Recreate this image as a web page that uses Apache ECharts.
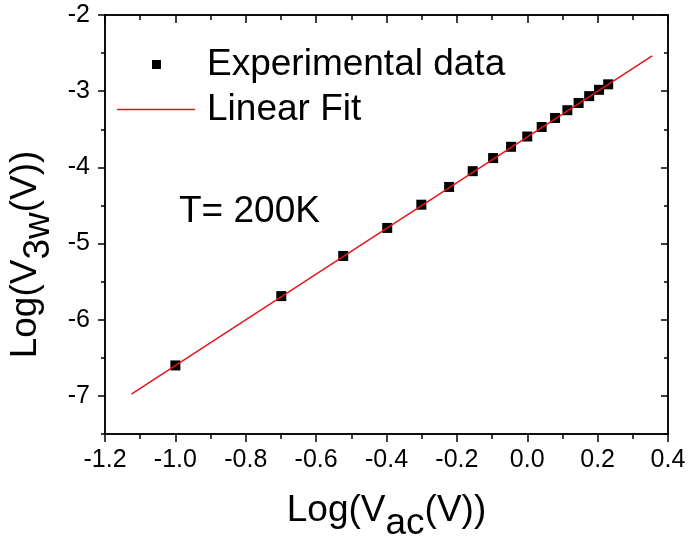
<!DOCTYPE html>
<html><head><meta charset="utf-8">
<script src="https://cdn.jsdelivr.net/npm/echarts@6/dist/echarts.min.js"></script>
<style>html,body{margin:0;padding:0;background:#fff}#c{width:689px;height:543px}</style>
</head><body><div id="c"></div>
<script>
// Data
const logVac = [-1.0, -0.699, -0.523, -0.398, -0.301, -0.222, -0.155, -0.097, -0.046, 0.0, 0.041, 0.079, 0.114, 0.146, 0.176, 0.204, 0.230];
const logV3w = [-6.60, -5.69, -5.163, -4.795, -4.49, -4.257, -4.05, -3.878, -3.73, -3.595, -3.47, -3.352, -3.25, -3.155, -3.065, -2.982, -2.91];
const fitX = [-1.125, 0.355];
const fitY = [-6.975, -2.535];
const xMajorTicks = [-1.2, -1.0, -0.8, -0.6, -0.4, -0.2, 0.0, 0.2, 0.4];
const xMinorTicks = [-1.1, -0.9, -0.7, -0.5, -0.3, -0.1, 0.1, 0.3];
const yMajorTicks = [-7, -6, -5, -4, -3, -2];
const yMinorTicks = [-7.5, -6.5, -5.5, -4.5, -3.5, -2.5];

const FONT = 'Liberation Sans, Arial, sans-serif';
const lineStyle = {color: '#000', width: 1.5};
const nameRich = {
  m: {fontSize: 37, color: '#000', fontFamily: FONT, verticalAlign: 'top', padding: [0, 0, 13, 0]},
  s: {fontSize: 37, color: '#000', fontFamily: FONT, verticalAlign: 'top', padding: [13, 0, 0, 0]}
};

function xAxisDef(pos, ticks, len, inside, labels, extra) {
  return Object.assign({
    type: 'value', position: pos, min: -1.2, max: 0.4,
    axisLine: {show: true, onZero: false, lineStyle: lineStyle},
    axisTick: {show: true, customValues: ticks, length: len, inside: inside, lineStyle: lineStyle},
    axisLabel: labels ? {show: true, customValues: ticks, margin: 14, fontSize: 25, color: '#000', fontFamily: FONT,
      formatter: v => (Math.abs(v) < 1e-9 ? 0 : v).toFixed(1)} : {show: false},
    splitLine: {show: false}
  }, extra || {});
}
function yAxisDef(pos, ticks, len, inside, labels, extra) {
  return Object.assign({
    type: 'value', position: pos, min: -7.5, max: -2,
    axisLine: {show: true, onZero: false, lineStyle: lineStyle},
    axisTick: {show: true, customValues: ticks, length: len, inside: inside, lineStyle: lineStyle},
    axisLabel: labels ? {show: true, customValues: ticks, margin: 15, fontSize: 25, color: '#000', fontFamily: FONT,
      formatter: v => String(Math.round(v))} : {show: false},
    splitLine: {show: false}
  }, extra || {});
}

const chart = echarts.init(document.getElementById('c'), null, {renderer: 'canvas'});
chart.setOption({
  animation: false,
  backgroundColor: '#fff',
  grid: {left: 105, right: 21, top: 15, bottom: 109, containLabel: false, outerBoundsMode: 'none'},
  title: {text: 'T= 200K', left: 179, top: 193, padding: 0,
    textStyle: {fontSize: 37, fontWeight: 'normal', color: '#000', fontFamily: FONT}},
  legend: [
    {orient: 'vertical', left: 152, top: 46, padding: 0, itemWidth: 9, itemHeight: 9,
      textStyle: {fontSize: 37, color: '#000', fontFamily: FONT, padding: [0, 0, 0, 41]},
      data: [{name: 'Experimental data', icon: 'rect'}]},
    {orient: 'vertical', left: 117, top: 91, padding: 0, itemWidth: 78, itemHeight: 1.5,
      textStyle: {fontSize: 37, color: '#000', fontFamily: FONT, padding: [0, 0, 0, 7]},
      data: [{name: 'Linear Fit', icon: 'path://M0,0H78V1.5H0Z'}]}
  ],
  xAxis: [
    xAxisDef('bottom', xMajorTicks, 8, false, true, {
      name: '{m|Log(V}{s|ac}{m|(V))}', nameLocation: 'middle', nameGap: 58,
      nameTextStyle: {fontSize: 37, color: '#000', fontFamily: FONT, rich: nameRich}
    }),
    xAxisDef('bottom', xMinorTicks, 5, false, false),
    xAxisDef('top', xMajorTicks, 8, true, false),
    xAxisDef('top', xMinorTicks, 5, true, false)
  ],
  yAxis: [
    yAxisDef('left', yMajorTicks, 7, false, true, {
      name: '{m|Log(V}{s|3w}{m|(V))}', nameLocation: 'middle', nameGap: 46,
      nameTextStyle: {fontSize: 37, color: '#000', fontFamily: FONT, rich: nameRich, padding: [0, 60, 0, 0]}
    }),
    yAxisDef('left', yMinorTicks, 4, false, false),
    yAxisDef('right', yMajorTicks, 7, true, false),
    yAxisDef('right', yMinorTicks, 4, true, false)
  ],
  series: [
    {
      name: 'Linear Fit', type: 'line', xAxisIndex: 0, yAxisIndex: 0,
      data: fitX.map((x, i) => [x, fitY[i]]),
      showSymbol: false, symbol: 'none',
      lineStyle: {color: '#e8141c', width: 1.5},
      itemStyle: {color: '#e8141c'}, z: 3
    },
    {
      name: 'Experimental data', type: 'scatter', xAxisIndex: 0, yAxisIndex: 0,
      data: logVac.map((x, i) => [x, logV3w[i]]),
      symbol: 'rect', symbolSize: 10,
      itemStyle: {color: '#000', opacity: 1}, z: 2
    }
  ]
});
</script>
</body></html>
